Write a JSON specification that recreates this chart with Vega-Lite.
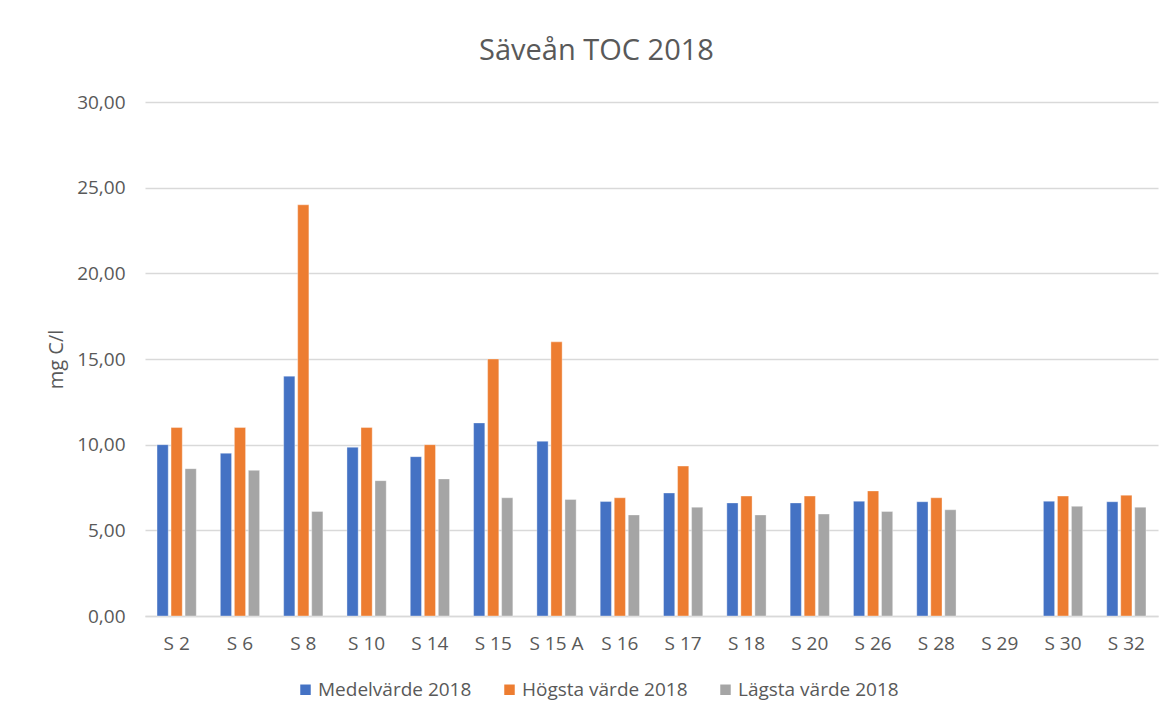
{
  "$schema": "https://vega.github.io/schema/vega-lite/v6.json",
  "width": 1013,
  "height": 514,
  "autosize": {"type": "none"},
  "padding": {"left": 145, "top": 102, "right": 14, "bottom": 104},
  "background": "white",
  "title": {
    "text": "Säveån TOC 2018",
    "font": "Open Sans",
    "fontSize": 29,
    "fontWeight": "normal",
    "color": "#595959",
    "anchor": "middle",
    "dx": -55,
    "offset": 27
  },
  "config": {
    "locale": {"number": {"decimal": ",", "thousands": " ", "grouping": [3], "currency": ["", " kr"]}},
    "view": {"stroke": null},
    "font": "Open Sans"
  },
  "data": {
    "values": [
      {"station": "S 2", "serie": "Medelvärde 2018", "value": 10.0},
      {"station": "S 2", "serie": "Högsta värde 2018", "value": 11.0},
      {"station": "S 2", "serie": "Lägsta värde 2018", "value": 8.6},
      {"station": "S 6", "serie": "Medelvärde 2018", "value": 9.5},
      {"station": "S 6", "serie": "Högsta värde 2018", "value": 11.0},
      {"station": "S 6", "serie": "Lägsta värde 2018", "value": 8.5},
      {"station": "S 8", "serie": "Medelvärde 2018", "value": 14.0},
      {"station": "S 8", "serie": "Högsta värde 2018", "value": 24.0},
      {"station": "S 8", "serie": "Lägsta värde 2018", "value": 6.1},
      {"station": "S 10", "serie": "Medelvärde 2018", "value": 9.85},
      {"station": "S 10", "serie": "Högsta värde 2018", "value": 11.0},
      {"station": "S 10", "serie": "Lägsta värde 2018", "value": 7.9},
      {"station": "S 14", "serie": "Medelvärde 2018", "value": 9.3},
      {"station": "S 14", "serie": "Högsta värde 2018", "value": 10.0},
      {"station": "S 14", "serie": "Lägsta värde 2018", "value": 8.0},
      {"station": "S 15", "serie": "Medelvärde 2018", "value": 11.27},
      {"station": "S 15", "serie": "Högsta värde 2018", "value": 15.0},
      {"station": "S 15", "serie": "Lägsta värde 2018", "value": 6.9},
      {"station": "S 15 A", "serie": "Medelvärde 2018", "value": 10.2},
      {"station": "S 15 A", "serie": "Högsta värde 2018", "value": 16.0},
      {"station": "S 15 A", "serie": "Lägsta värde 2018", "value": 6.8},
      {"station": "S 16", "serie": "Medelvärde 2018", "value": 6.68},
      {"station": "S 16", "serie": "Högsta värde 2018", "value": 6.9},
      {"station": "S 16", "serie": "Lägsta värde 2018", "value": 5.9},
      {"station": "S 17", "serie": "Medelvärde 2018", "value": 7.18},
      {"station": "S 17", "serie": "Högsta värde 2018", "value": 8.75},
      {"station": "S 17", "serie": "Lägsta värde 2018", "value": 6.35},
      {"station": "S 18", "serie": "Medelvärde 2018", "value": 6.6},
      {"station": "S 18", "serie": "Högsta värde 2018", "value": 7.0},
      {"station": "S 18", "serie": "Lägsta värde 2018", "value": 5.9},
      {"station": "S 20", "serie": "Medelvärde 2018", "value": 6.6},
      {"station": "S 20", "serie": "Högsta värde 2018", "value": 7.0},
      {"station": "S 20", "serie": "Lägsta värde 2018", "value": 5.95},
      {"station": "S 26", "serie": "Medelvärde 2018", "value": 6.7},
      {"station": "S 26", "serie": "Högsta värde 2018", "value": 7.3},
      {"station": "S 26", "serie": "Lägsta värde 2018", "value": 6.1},
      {"station": "S 28", "serie": "Medelvärde 2018", "value": 6.67},
      {"station": "S 28", "serie": "Högsta värde 2018", "value": 6.9},
      {"station": "S 28", "serie": "Lägsta värde 2018", "value": 6.2},
      {"station": "S 30", "serie": "Medelvärde 2018", "value": 6.7},
      {"station": "S 30", "serie": "Högsta värde 2018", "value": 7.0},
      {"station": "S 30", "serie": "Lägsta värde 2018", "value": 6.4},
      {"station": "S 32", "serie": "Medelvärde 2018", "value": 6.67},
      {"station": "S 32", "serie": "Högsta värde 2018", "value": 7.05},
      {"station": "S 32", "serie": "Lägsta värde 2018", "value": 6.35}
    ]
  },
  "mark": {"type": "bar", "stroke": "white", "strokeWidth": 0.6, "strokeOpacity": 0.6},
  "encoding": {
    "x": {
      "field": "station",
      "type": "nominal",
      "scale": {
        "domain": ["S 2", "S 6", "S 8", "S 10", "S 14", "S 15", "S 15 A", "S 16", "S 17", "S 18", "S 20", "S 26", "S 28", "S 29", "S 30", "S 32"],
        "paddingInner": 0.38,
        "paddingOuter": 0.19
      },
      "axis": {
        "title": null,
        "labelAngle": 0,
        "labelFontSize": 19,
        "labelColor": "#595959",
        "labelPadding": 18,
        "ticks": false,
        "domain": true,
        "domainColor": "#d9d9d9",
        "domainWidth": 1.5,
        "grid": false
      }
    },
    "xOffset": {
      "field": "serie",
      "type": "nominal",
      "scale": {"domain": ["Medelvärde 2018", "Högsta värde 2018", "Lägsta värde 2018"], "paddingInner": 0.2, "paddingOuter": 0}
    },
    "y": {
      "field": "value",
      "type": "quantitative",
      "scale": {"domain": [0, 30], "nice": false},
      "axis": {
        "title": "mg C/l",
        "titleFontSize": 20,
        "titleFontWeight": "normal",
        "titleColor": "#595959",
        "titlePadding": 10,
        "values": [0, 5, 10, 15, 20, 25, 30],
        "format": ".2f",
        "labelFontSize": 19,
        "labelColor": "#595959",
        "labelPadding": 20,
        "ticks": false,
        "domain": false,
        "grid": true,
        "gridColor": "#d9d9d9",
        "gridWidth": 1.5
      }
    },
    "color": {
      "field": "serie",
      "type": "nominal",
      "scale": {
        "domain": ["Medelvärde 2018", "Högsta värde 2018", "Lägsta värde 2018"],
        "range": ["#4472c4", "#ed7d31", "#a5a5a5"]
      },
      "legend": {
        "title": null,
        "orient": "none",
        "legendX": 151,
        "legendY": 578,
        "direction": "horizontal",
        "symbolType": "square",
        "symbolSize": 110,
        "symbolStrokeWidth": 0,
        "labelFontSize": 19,
        "labelLimit": 400,
        "labelColor": "#595959",
        "labelOffset": 3,
        "columnPadding": 28
      }
    }
  }
}
